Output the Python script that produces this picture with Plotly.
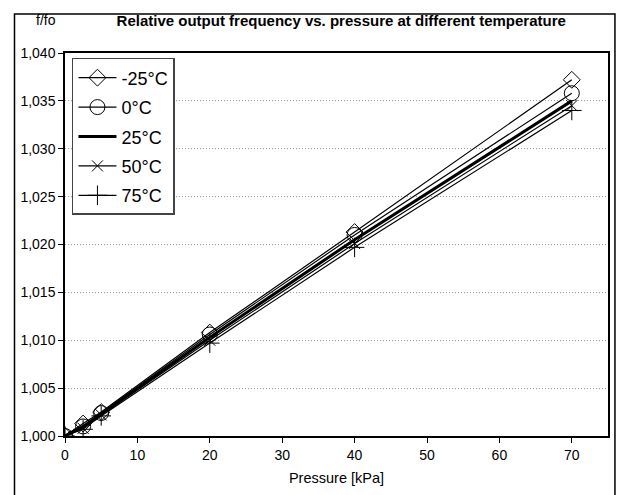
import plotly.graph_objects as go

pressure = [0, 2.5, 5, 20, 40, 70]
series_names = ["-25°C", "0°C", "25°C", "50°C", "75°C"]
vals_m25 = [1.0000, 1.0013, 1.0025, 1.0108, 1.0213, 1.0372]
vals_0 = [1.0000, 1.0010, 1.0024, 1.0106, 1.0210, 1.0358]
vals_25 = [1.0000, 1.0010, 1.0023, 1.0103, 1.0205, 1.0350]
vals_50 = [1.0000, 1.0008, 1.0022, 1.0100, 1.0201, 1.0345]
vals_75 = [1.0000, 1.0007, 1.0021, 1.0097, 1.0197, 1.0340]
series_vals = [vals_m25, vals_0, vals_25, vals_50, vals_75]
y_ticks = [1.000, 1.005, 1.010, 1.015, 1.020, 1.025, 1.030, 1.035, 1.040]
y_ticklabels = ["1,000", "1,005", "1,010", "1,015", "1,020", "1,025", "1,030", "1,035", "1,040"]
x_ticks = [0, 10, 20, 30, 40, 50, 60, 70]

styles = [
    dict(mode="lines+markers", marker=dict(symbol="diamond-open", size=13, color="black", line=dict(width=1)), line=dict(color="black", width=1.2)),
    dict(mode="lines+markers", marker=dict(symbol="circle-open", size=15, color="black", line=dict(width=1)), line=dict(color="black", width=1.2)),
    dict(mode="lines", line=dict(color="black", width=3)),
    dict(mode="lines+markers", marker=dict(symbol="x-thin-open", size=11, color="black", line=dict(width=1, color="black")), line=dict(color="black", width=1.2)),
    dict(mode="lines+markers", marker=dict(symbol="cross-thin-open", size=14, color="black", line=dict(width=1, color="black")), line=dict(color="black", width=1.2)),
]

fig = go.Figure()
for i, (name, vals) in enumerate(zip(series_names, series_vals)):
    fig.add_trace(go.Scatter(x=pressure, y=vals, name=name, legendgroup=name, **styles[i]))

FONT = "Liberation Sans, Arial, sans-serif"
fig.update_layout(
    width=624, height=495,
    margin=dict(l=52, r=24, t=45, b=67),
    paper_bgcolor="white", plot_bgcolor="white",
    font=dict(family=FONT, color="black", size=14),
    title=dict(text="<b>Relative output frequency vs. pressure at different temperature</b>",
               xref="container", yref="container",
               x=0.534, xanchor="center", y=0.974, yanchor="middle", font=dict(size=15, family=FONT)),
    showlegend=True,
    legend=dict(x=0.0128, y=0.987, xanchor="left", yanchor="top", bgcolor="white",
                bordercolor="#444", borderwidth=1.5, font=dict(size=18, family=FONT),
                tracegroupgap=3, itemwidth=38, traceorder="grouped"),
    xaxis=dict(range=[0, 75], tickvals=x_ticks, showgrid=False, zeroline=False,
               showline=True, linecolor="black", linewidth=1.5, mirror=True,
               ticks="outside", ticklen=5, tickcolor="black",
               title=dict(text="Pressure [kPa]", font=dict(size=14.5), standoff=11)),
    yaxis=dict(range=[1.000, 1.040], tickvals=y_ticks, ticktext=y_ticklabels,
               showgrid=True, gridcolor="#999", griddash="1px,2px", gridwidth=1, zeroline=False,
               showline=True, linecolor="black", linewidth=1.5, mirror=True,
               ticks="outside", ticklen=5, tickcolor="black"),
    annotations=[dict(text="f/fo", xref="paper", yref="paper", x=-0.057, y=1.086,
                      xanchor="left", yanchor="middle", showarrow=False, font=dict(size=14))],
    shapes=[dict(type="rect", xref="paper", yref="paper", x0=-0.093, x1=1.0128, y0=-0.25,
                 y1=1.1018, line=dict(color="black", width=1.5), fillcolor="rgba(0,0,0,0)", layer="below")],
)
fig.write_html("out.html")
